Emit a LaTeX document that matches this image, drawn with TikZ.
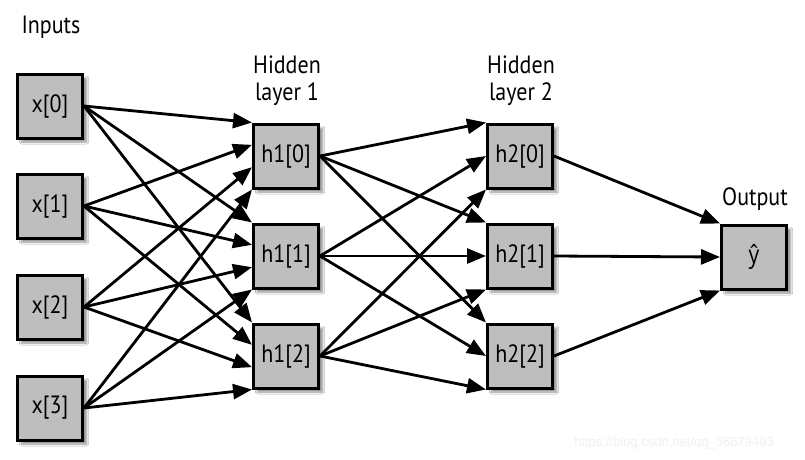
\documentclass[tikz,border=0pt]{standalone}
\usepackage{fontspec}
\setmainfont{PT Sans}[FakeStretch=0.88]
\newfontfamily\yfont{Open Sans}[FakeStretch=0.85]
\newfontfamily\wmfont{Liberation Sans}
\usetikzlibrary{arrows.meta,shadows.blur,calc}
\definecolor{boxgray}{RGB}{190,190,190}
\begin{document}
\begin{tikzpicture}[x=1pt,y=-1pt,
  neuron/.style={draw=black, line width=3pt, fill=boxgray, minimum width=65pt,
    minimum height=64pt, inner sep=0pt, font=\fontsize{25}{25}\selectfont,
    blur shadow={shadow xshift=4pt, shadow yshift=-4pt, shadow blur steps=10, shadow opacity=45}},
  conn/.style={line width=2.8pt, -{Triangle[length=19pt,width=15pt]}},
  lbl/.style={font=\fontsize{25}{27}\selectfont, align=center, inner sep=0pt}
]
\useasboundingbox[fill=white] (0,0) rectangle (805,459);

% inputs
\node[neuron] (x0) at (50,106) {x[0]};
\node[neuron] (x1) at (50,206) {x[1]};
\node[neuron] (x2) at (50,307) {x[2]};
\node[neuron] (x3) at (50,408) {x[3]};
% hidden layer 1
\node[neuron] (a0) at (286,156) {h1[0]};
\node[neuron] (a1) at (286,256) {h1[1]};
\node[neuron] (a2) at (286,356) {h1[2]};
% hidden layer 2
\node[neuron] (b0) at (520,156) {h2[0]};
\node[neuron] (b1) at (520,256) {h2[1]};
\node[neuron] (b2) at (520,356) {h2[2]};
% output
\node[neuron] (y) at (754,257) {\yfont ŷ};

% labels
\node[lbl, anchor=base] (linputs) at (51,33) {Inputs};
\node[lbl, anchor=south] (lh1) at (287,106) {Hidden\\layer 1};
\node[lbl, anchor=south] (lh2) at (521,106) {Hidden\\layer 2};
\node[lbl, anchor=base] (lout) at (755,205) {Output};

% connections
\foreach \i in {0,...,3}
  \foreach \j in {0,1,2}
    \draw[conn] (x\i.east) -- ($(a\j.north west)!{\i/3}!(a\j.south west)$);
\foreach \i in {0,1,2}
  \foreach \j in {0,1,2}
    \draw[conn] (a\i.east) -- ($(b\j.north west)!{\i/2}!(b\j.south west)$);
\foreach \i in {0,1,2}
  \draw[conn] (b\i.east) -- ($(y.north west)!{\i/2}!(y.south west)$);

% watermark
\node[font=\wmfont\fontsize{13}{13}\selectfont, text=black!6, anchor=base, inner sep=0pt] (wm)
  at (674,446) {https://blog.csdn.net/qq\_36879493};
\end{tikzpicture}
\end{document}
